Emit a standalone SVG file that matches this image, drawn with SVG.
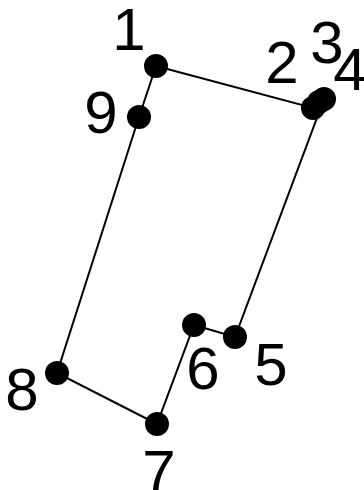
<svg xmlns="http://www.w3.org/2000/svg" width="364" height="490" viewBox="0 0 364 490">
<style>
.n{fill:#000}
.e{fill:none;stroke:#000;stroke-width:2}
.t{font-family:"Liberation Sans",Arial,sans-serif;font-size:60px;fill:#000;text-anchor:middle}
</style>
<rect width="364" height="490" fill="#fff"/>
<g id="connectors">
<polyline class="e" points="156,66 313,108 319,102 324,99 235,337 194,325 157,424 57,373 139,117 156,66"/>
</g>
<g id="node1"><circle class="n" cx="156" cy="66" r="12"/><text class="t" x="129" y="50">1</text></g>
<g id="node2"><circle class="n" cx="313" cy="108" r="12"/><text class="t" x="282" y="83">2</text></g>
<g id="node3"><circle class="n" cx="319" cy="102" r="12"/><text class="t" x="327" y="63">3</text></g>
<g id="node4"><circle class="n" cx="324" cy="99" r="12"/><text class="t" x="350" y="90">4</text></g>
<g id="node5"><circle class="n" cx="235" cy="337" r="12"/><text class="t" x="271" y="385">5</text></g>
<g id="node6"><circle class="n" cx="194" cy="325" r="12"/><text class="t" x="203" y="389">6</text></g>
<g id="node7"><circle class="n" cx="157" cy="424" r="12"/><text class="t" x="159" y="492">7</text></g>
<g id="node8"><circle class="n" cx="57" cy="373" r="12"/><text class="t" x="22" y="410">8</text></g>
<g id="node9"><circle class="n" cx="139" cy="117" r="12"/><text class="t" x="101" y="133">9</text></g>
</svg>
